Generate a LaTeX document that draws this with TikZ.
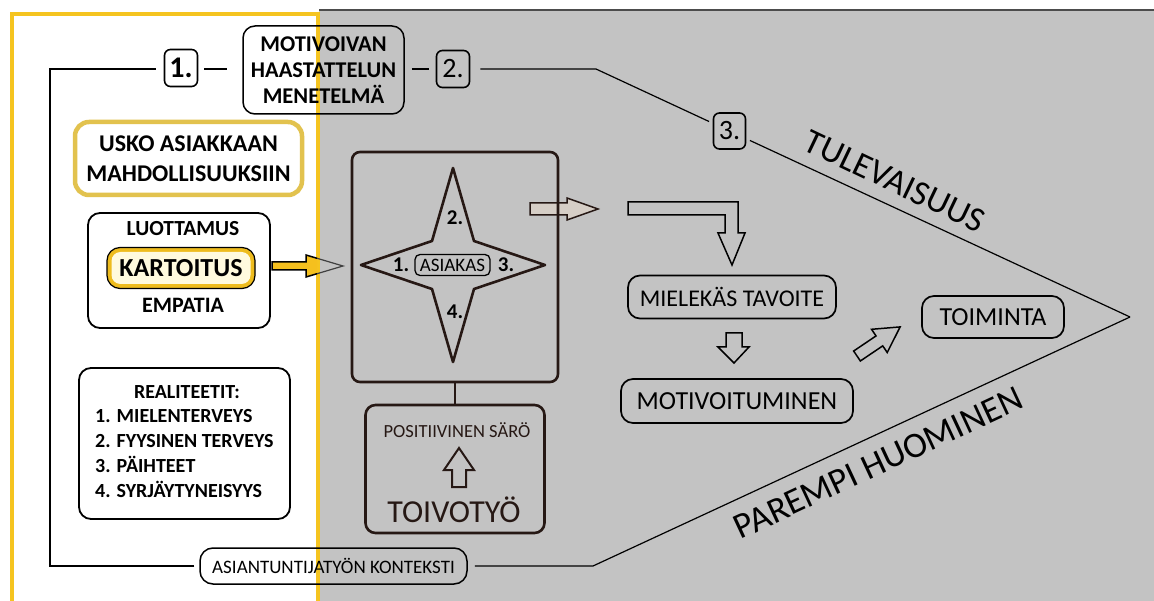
\documentclass[tikz,border=0pt]{standalone}
\usepackage{fontspec}
\setmainfont{Carlito}
\usetikzlibrary{calc}

\definecolor{bggray}{RGB}{195,195,195}
\definecolor{frameyellow}{RGB}{245,196,32}
\definecolor{goldline}{RGB}{226,194,78}
\definecolor{kartgold}{RGB}{238,188,30}
\definecolor{kartin}{RGB}{255,250,222}
\definecolor{darkbrown}{RGB}{38,24,20}
\definecolor{arrowfill}{RGB}{214,206,198}
\definecolor{arrowyellow}{RGB}{245,192,30}

\newcommand\fsz[2]{\fontsize{#1}{#2}\selectfont}

\begin{document}
\begin{tikzpicture}[x=1pt,y=-1pt,
  box/.style={draw, line width=1.6pt, rounded corners=11pt, inner sep=0pt, align=center},
  numbox/.style={box, rounded corners=6pt, minimum width=33, minimum height=37},
  conn/.style={line width=1.2pt},
  blockarrow/.style={draw, line width=1.5pt, line join=miter},
  lefttext/.style={inner sep=0pt, font=\bfseries\fsz{21}{25}},
  starnum/.style={inner sep=0pt, font=\bfseries\fsz{21}{24}},
]
\useasboundingbox (0,0) rectangle (1154,601);
\fill[white] (0,0) rectangle (1154,601);

% grey working area and its frame
\fill[bggray] (319,10) rectangle (1154,601);
\draw[line width=1.5pt, black!70] (319,10) -- (1154,10);
\draw[frameyellow, line width=4pt] (12,601) -- (12,14) -- (318,14) -- (318,601);

% ---------- left column ----------
\node[box, draw=goldline, line width=4.5pt, rounded corners=14pt,
      minimum width=227, minimum height=73, font=\bfseries\fsz{24}{30}]
      (usko) at (188.5,158.5) {USKO ASIAKKAAN\\MAHDOLLISUUKSIIN};

\node[box, line width=1.8pt, rounded corners=12pt, minimum width=182, minimum height=115]
      (lbox) at (179,270.5) {};
\node[lefttext, font=\bfseries\fsz{21.5}{25}] (luot) at (183,229) {LUOTTAMUS};
\node[box, fill=kartgold, line width=1.2pt, rounded corners=13pt,
      minimum width=148, minimum height=41, font=\bfseries\fsz{26}{30},
      path picture={\fill[kartin, rounded corners=9pt]
        ([shift={(4.5pt,4.5pt)}]path picture bounding box.south west) rectangle
        ([shift={(-4.5pt,-4.5pt)}]path picture bounding box.north east);}]
      (kart) at (181,268) {KARTOITUS};
\node[lefttext, font=\bfseries\fsz{22}{25}] (emp) at (183,305) {EMPATIA};

\node[box, line width=1.8pt, rounded corners=12pt, minimum width=211, minimum height=151]
      (rbox) at (184.5,443.5) {};
\node[lefttext, font=\bfseries\fsz{20}{25}] (rtit) at (187,392) {REALITEETIT:};
\node[lefttext, font=\bfseries\fsz{20}{25}, align=left, anchor=west] (rlist) at (95,453.5)
      {1. MIELENTERVEYS\\2. FYYSINEN TERVEYS\\3. PÄIHTEET\\4. SYRJÄYTYNEISYYS};

% yellow arrow towards the client star
\begin{scope}
  \clip (0,0) rectangle (317,601);
  \fill[arrowyellow] (272,262) -- (306,262) -- (306,255) -- (343,266) -- (306,277) -- (306,270) -- (272,270) -- cycle;
  \draw[line width=1.5pt] (272,262) -- (306,262) -- (306,255) -- (343,266) -- (306,277) -- (306,270) -- (272,270) -- cycle;
\end{scope}
\begin{scope}
  \clip (317,0) rectangle (1154,601);
  \draw[line width=1.2pt, black!75] (306,255) -- (343,266) -- (306,277);
\end{scope}

% ---------- top line with steps ----------
\node[numbox, font=\bfseries\fsz{30}{34}] (one) at (181,68) {1.};
\node[box, line width=1.5pt, rounded corners=12pt, minimum width=161, minimum height=88,
      font=\bfseries\fsz{22.5}{26}] (mot) at (323.5,70) {MOTIVOIVAN\\HAASTATTELUN\\MENETELMÄ};
\node[numbox, font=\fsz{28}{32}] (two) at (453,69) {2.};

\coordinate (tl) at (50,69);
\coordinate (bl) at (50,566);
\coordinate (k2) at (596,69);
\coordinate (k3) at (593,566);
\coordinate (tip) at (1130,317);

\node[numbox, font=\fsz{28}{32}, minimum width=32, minimum height=36]
      (three) at ($(k2)!0.25!(tip)$) {3.};

\node[box, line width=1.5pt, rounded corners=13pt, minimum width=267, minimum height=36,
      font=\fsz{19}{22}] (ctx) at (333.5,566) {ASIANTUNTIJATYÖN KONTEKSTI};

\draw[conn, shorten <=5pt, shorten >=8pt] (ctx.west) -- (bl) -- (tl) -- (one.west |- tl);
\draw[conn, shorten <=6pt, shorten >=15pt] (one.east |- tl) -- (mot.west |- tl);
\draw[conn, shorten <=7pt, shorten >=7pt] (mot.east |- tl) -- (two.west |- tl);
\draw[conn, shorten <=10pt, shorten >=4pt] (two.east |- tl) -- (k2) -- (three);
\draw[conn, shorten <=4pt] (three) -- (tip);
\draw[conn, shorten <=7pt] (ctx.east) -- (k3) -- (tip);

\node[rotate=-25.5, inner sep=0pt, font=\fsz{35}{40}] (fut) at (895,181) {TULEVAISUUS};
\node[rotate=25, inner sep=0pt, font=\fsz{36}{40}] (tom) at (878,463) {PAREMPI HUOMINEN};

% ---------- client star ----------
\fill[arrowfill] (530,203) -- (567,203) -- (567,198) -- (598,209) -- (567,220) -- (567,215) -- (530,215) -- cycle;
\draw[darkbrown, line width=1.5pt, line join=miter]
  (530,203) -- (567,203) -- (567,198) -- (598,209) -- (567,220) -- (567,215) -- (530,215) -- cycle;

\node[draw=darkbrown, line width=2.6pt, rounded corners=8pt, minimum width=206, minimum height=230]
      (sbox) at (455,267) {};
\draw[darkbrown, line width=2.6pt, line join=round]
  (453,168) -- (474,241) -- (545,265) -- (474,289) -- (453,362) -- (432,289) -- (361,265) -- (432,241) -- cycle;
\node[starnum] (s2) at (455,218) {2.};
\node[starnum] (s4) at (455,312) {4.};
\node[starnum] (s1) at (401,265) {1.};
\node[starnum] (s3) at (506,265) {3.};
\node[draw, line width=1.3pt, rounded corners=5pt, minimum width=75, minimum height=21,
      inner sep=0pt, font=\fsz{19}{22}] (asiakas) at (452.5,265) {ASIAKAS};

\node[draw=darkbrown, line width=2.6pt, rounded corners=10pt, minimum width=179, minimum height=128]
      (pos) at (455,469) {};
\draw[darkbrown, line width=2.6pt] (sbox.south) -- (pos.north);
\node[inner sep=0pt, text=darkbrown, font=\fsz{18.5}{22}] (saro) at (457,430) {POSITIIVINEN SÄRÖ};
\node[inner sep=0pt, text=darkbrown, font=\fsz{32}{36}] (toivo) at (454,510) {TOIVOTYÖ};
\draw[darkbrown, line width=2pt, line join=miter]
  (459,448) -- (474,470) -- (466,470) -- (466,487) -- (452,487) -- (452,470) -- (444,470) -- cycle;

% ---------- path to action ----------
\draw[blockarrow]
  (628,202) -- (738,202) -- (738,233) -- (745,233) -- (732,265) -- (718,233) -- (725,233) -- (725,215) -- (628,215) -- cycle;
\node[box, line width=1.7pt, rounded corners=12pt, minimum width=208, minimum height=43,
      font=\fsz{24}{28}] (mt) at (732,297) {MIELEKÄS TAVOITE};
\draw[blockarrow]
  (726,333) -- (742,333) -- (742,347) -- (749,347) -- (734,363) -- (718,347) -- (726,347) -- cycle;
\node[box, line width=1.7pt, rounded corners=12pt, minimum width=232, minimum height=44,
      font=\fsz{26}{30}] (mo) at (737,401) {MOTIVOITUMINEN};
\begin{scope}[shift={(857,356)}, rotate=34]
  \draw[blockarrow] (0,-6) -- (27,-6) -- (27,-14) -- (52,0) -- (27,14) -- (27,6) -- (0,6) -- cycle;
\end{scope}
\node[box, line width=1.7pt, rounded corners=12pt, minimum width=142, minimum height=42,
      font=\fsz{26}{30}] (toim) at (993,317) {TOIMINTA};
\end{tikzpicture}
\end{document}
